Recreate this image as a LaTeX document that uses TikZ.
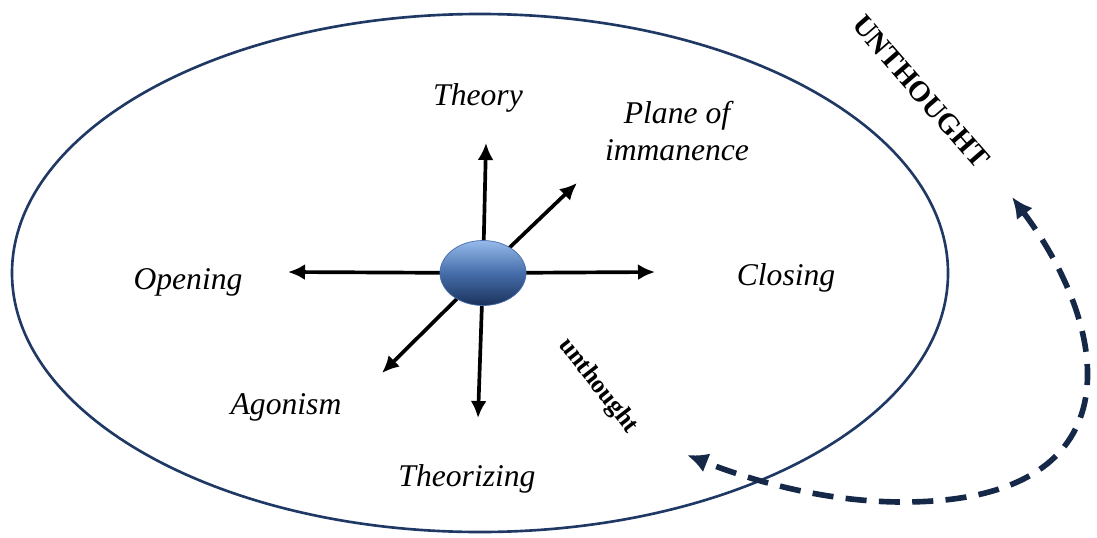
\documentclass[tikz,border=0pt]{standalone}
\usepackage{fontspec}
\setmainfont{Liberation Serif}
\usetikzlibrary{arrows.meta,shapes.geometric}
\definecolor{ringNavy}{RGB}{31,56,100}
\definecolor{loopNavy}{RGB}{22,40,72}
\definecolor{blobTop}{RGB}{150,186,235}
\definecolor{blobMid}{RGB}{70,110,170}
\definecolor{blobBot}{RGB}{26,50,92}

\begin{document}
\begin{tikzpicture}[
  x=0.02cm, y=-0.02cm, font=\fontsize{18}{21}\selectfont\itshape,
  lbl/.style={align=center, inner sep=1pt},
  tag/.style={font=\fontsize{#1}{#1}\selectfont\bfseries, inner sep=1pt},
  ray/.style={-{Latex[length=3.4mm,width=3.2mm]}, line width=2.1pt, draw=black},
  loopflow/.style={{Latex[length=4.2mm,width=4mm]}-{Latex[length=4.2mm,width=4mm]},
                   line width=3.2pt, draw=loopNavy, dash pattern=on 12pt off 7pt},
  blob/.style={ellipse, minimum width=49pt, minimum height=37pt, inner sep=0pt,
               top color=blobTop, bottom color=blobBot, middle color=blobMid,
               draw=blobMid, line width=0.4pt},
]
\useasboundingbox (0,0) rectangle (1097,537);

% outer ring
\draw[ringNavy, line width=1.5pt] (480,273) ellipse [x radius=468, y radius=259];

% ---------------- rays from the hub ----------------
\coordinate (hub) at (483,273);
\coordinate (tipUp)    at (486,143);
\coordinate (tipDown)  at (478,418);
\coordinate (tipLeft)  at (288,272);
\coordinate (tipRight) at (655,272);
\coordinate (tipNE)    at (577,183);
\coordinate (tipSW)    at (382,373);
\foreach \t in {tipUp, tipDown, tipLeft, tipRight, tipNE, tipSW}
  \draw[ray] (hub) -- (\t);

\node[blob] (core) at (hub) {};

% ---------------- labels ----------------
\node[lbl] (theory)     at (478,98)  {Theory};
\node[lbl] (plane)      at (677,131) {Plane of\\immanence};
\node[lbl] (opening)    at (188,282) {Opening};
\node[lbl] (closing)    at (786,278) {Closing};
\node[lbl] (agonism)    at (286,407) {Agonism};
\node[lbl] (theorizing) at (467,479) {Theorizing};

\node[tag=14.5, rotate=-52] (innerUn) at (598,386) {unthought};
\node[tag=16.5, rotate=-49] (outerUn) at (921,92) {UNTHOUGHT};

% ---------------- dashed return loop ----------------
\coordinate (loopTop) at (1012,197);
\coordinate (loopLow) at (903,502);
\coordinate (loopEnd) at (687,455);
\draw[loopflow] (loopTop) .. controls (1115,335) and (1135,502) .. (loopLow)
  .. controls (820,502) and (745,478) .. (loopEnd);
\end{tikzpicture}
\end{document}
